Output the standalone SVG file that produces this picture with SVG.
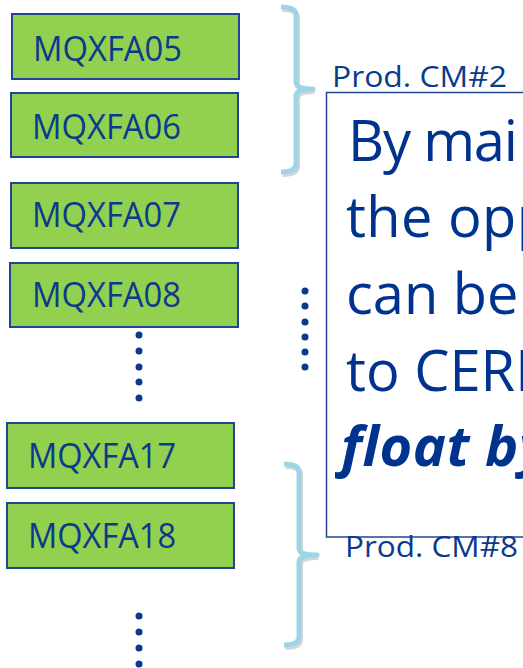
<svg xmlns="http://www.w3.org/2000/svg" width="523" height="668" viewBox="0 0 523 668">
<style>
.box{fill:#92d050;stroke:#1f4596;stroke-width:2}
.lbl{font-family:"Open Sans","Liberation Sans",sans-serif;font-size:34px;fill:#0b3a8c}
.prod{font-family:"Open Sans","Liberation Sans",sans-serif;font-size:29px;fill:#0b3a8c}
.big{font-family:"Open Sans","Liberation Sans",sans-serif;font-size:56px;fill:#00338d}
.bigb{font-weight:bold;font-style:italic}
.brace{fill:none;stroke:#9dd5e8;stroke-width:5;stroke-linejoin:round;stroke-linecap:butt}
.shadow{fill:none;stroke:#888;stroke-opacity:0.35;stroke-width:5}
.dot{fill:#0b3a8c}
</style>
<rect width="523" height="668" fill="#fff"/>
<g id="node-MQXFA05"><rect class="box" x="12" y="14" width="227" height="65"/><text class="lbl" x="33" y="61" textLength="149" lengthAdjust="spacingAndGlyphs">MQXFA05</text></g>
<g id="node-MQXFA06"><rect class="box" x="11" y="93" width="227" height="64"/><text class="lbl" x="32" y="139" textLength="149" lengthAdjust="spacingAndGlyphs">MQXFA06</text></g>
<g id="node-MQXFA07"><rect class="box" x="11" y="183" width="227" height="65"/><text class="lbl" x="32" y="227" textLength="149" lengthAdjust="spacingAndGlyphs">MQXFA07</text></g>
<g id="node-MQXFA08"><rect class="box" x="10" y="263" width="228" height="64"/><text class="lbl" x="32" y="307" textLength="149" lengthAdjust="spacingAndGlyphs">MQXFA08</text></g>
<g id="node-MQXFA17"><rect class="box" x="7" y="423" width="227" height="65"/><text class="lbl" x="28" y="468" textLength="148" lengthAdjust="spacingAndGlyphs">MQXFA17</text></g>
<g id="node-MQXFA18"><rect class="box" x="7" y="503" width="227" height="65"/><text class="lbl" x="28" y="548" textLength="148" lengthAdjust="spacingAndGlyphs">MQXFA18</text></g>
<g id="connectors">
<path class="shadow" transform="translate(1.5,2.5)" d="M281,7 Q296,7 296,15 L296,82 Q296,89 313,89 Q296,89 296,96 L296,164 Q296,172 281,172"/>
<path class="brace" d="M281,7 Q296,7 296,15 L296,82 Q296,89 313,89 Q296,89 296,96 L296,164 Q296,172 281,172"/>
<path class="shadow" transform="translate(1.5,2.5)" d="M284,464 Q299,464 299,472 L299,548 Q299,555 317,555 Q299,555 299,562 L299,637 Q299,645 284,645"/>
<path class="brace" d="M284,464 Q299,464 299,472 L299,548 Q299,555 317,555 Q299,555 299,562 L299,637 Q299,645 284,645"/>
</g>
<g id="dots">
<circle class="dot" cx="139" cy="335" r="3.5"/><circle class="dot" cx="139" cy="351" r="3.5"/><circle class="dot" cx="139" cy="367" r="3.5"/><circle class="dot" cx="139" cy="382" r="3.5"/><circle class="dot" cx="139" cy="398" r="3.5"/>
<circle class="dot" cx="139" cy="616" r="3.5"/><circle class="dot" cx="139" cy="632" r="3.5"/><circle class="dot" cx="139" cy="648" r="3.5"/><circle class="dot" cx="139" cy="664" r="3.5"/>
<circle class="dot" cx="305" cy="291" r="3.5"/><circle class="dot" cx="305" cy="306" r="3.5"/><circle class="dot" cx="305" cy="322" r="3.5"/><circle class="dot" cx="305" cy="337" r="3.5"/><circle class="dot" cx="305" cy="352" r="3.5"/><circle class="dot" cx="305" cy="367" r="3.5"/>
</g>
<g id="note">
<rect x="326.5" y="92.5" width="210" height="444.5" fill="#fff" stroke="#1f4596" stroke-width="1.5"/>
<text class="big" x="348" y="161" letter-spacing="-1.2">By mai</text>
<text class="big" x="346" y="237" letter-spacing="0.4">the opp</text>
<text class="big" x="346" y="314">can be</text>
<text class="big" x="346" y="391">to CERN</text>
<text class="big bigb" x="341" y="466" letter-spacing="0.5">float by</text>
</g>
<g id="labels">
<text class="prod" x="332" y="87" textLength="175" lengthAdjust="spacingAndGlyphs">Prod. CM#2</text>
<text class="prod" x="345" y="557" textLength="173" lengthAdjust="spacingAndGlyphs">Prod. CM#8</text>
</g>
</svg>
